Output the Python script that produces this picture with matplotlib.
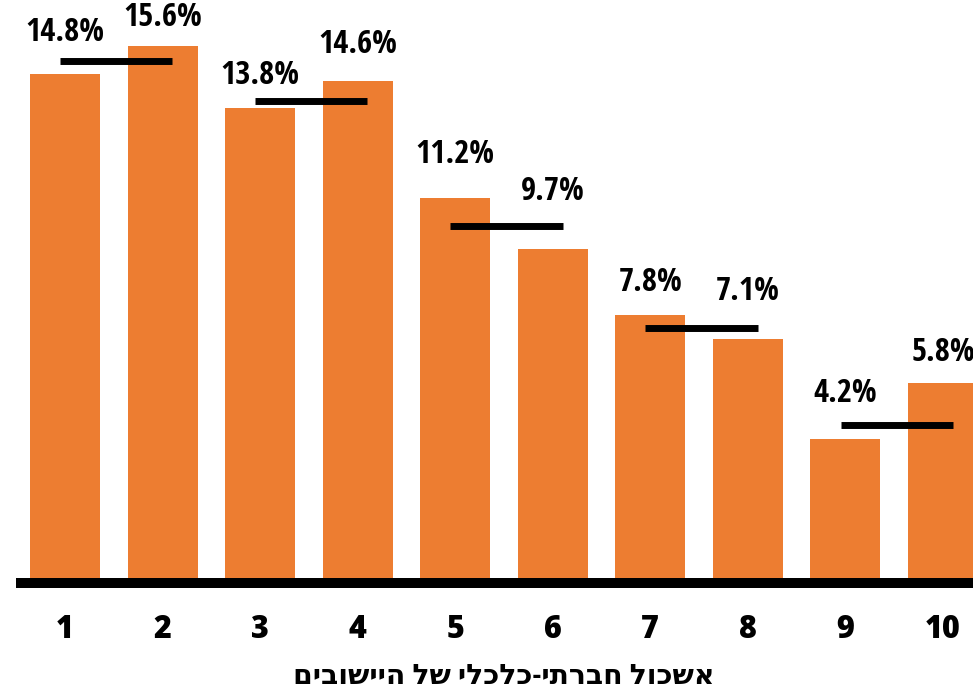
import matplotlib
matplotlib.use("Agg")
import matplotlib.pyplot as plt

# data
clusters = [1, 2, 3, 4, 5, 6, 7, 8, 9, 10]
tick_labels = ["1", "2", "3", "4", "5", "6", "7", "8", "9", "10"]
shares = [14.8, 15.6, 13.8, 14.6, 11.2, 9.7, 7.8, 7.1, 4.2, 5.8]
pair_avgs = [15.16, 14.0, 10.38, 7.41, 4.58]
xlabel = "אשכול חברתי-כלכלי של היישובים"

# label offsets above bar / pair line, in pixels
label_pad = [29, 29, 26, 36, 43, 34, 32, 37, 32, 31]

orange = "#ED7D31"
fig = plt.figure(figsize=(9.73, 6.92), dpi=100)
ax = fig.add_axes([0, 109 / 692, 1, 583 / 692])

ppu_x = 97.55
ax.set_xlim(1 - 65 / ppu_x, 1 + (973 - 65) / ppu_x)
ax.set_ylim(0, 583 / 34.4)

ax.bar(clusters, shares, width=70 / ppu_x, color=orange, zorder=1)

# pair average lines
for i, avg in enumerate(pair_avgs):
    x0 = clusters[2 * i] - 0.05
    x1 = clusters[2 * i + 1] + 0.1
    ax.plot([x0, x1], [avg, avg], color="black", lw=5, solid_capstyle="butt", zorder=3)

# baseline
ax.plot([1 - 49 / ppu_x, 11], [0, 0], color="black", lw=7.2, solid_capstyle="butt",
        zorder=4, clip_on=False)

for i, (x, v) in enumerate(zip(clusters, shares)):
    top = max(v, pair_avgs[i // 2])
    ax.annotate(f"{v}%", (x, top), xytext=(0, label_pad[i] * 0.72),
                textcoords="offset points", ha="center", va="center",
                family="Open Sans Condensed", weight="bold", size=23.5,
                zorder=5)

xl = ax.get_xlim()
for x, t in zip(clusters, tick_labels):
    fig.text((x - xl[0]) / (xl[1] - xl[0]), 1 - 630 / 692, t, ha="center", va="center",
             fontsize=22, fontweight=800, family="Open Sans")

fig.text(504 / 973, 1 - 677 / 692, xlabel[::-1], ha="center", va="center",
         fontsize=20.3, fontweight="bold",
         family=["Open Sans Condensed", "Open Sans", "DejaVu Sans"])

ax.axis("off")
fig.savefig("out.png", dpi=100)
